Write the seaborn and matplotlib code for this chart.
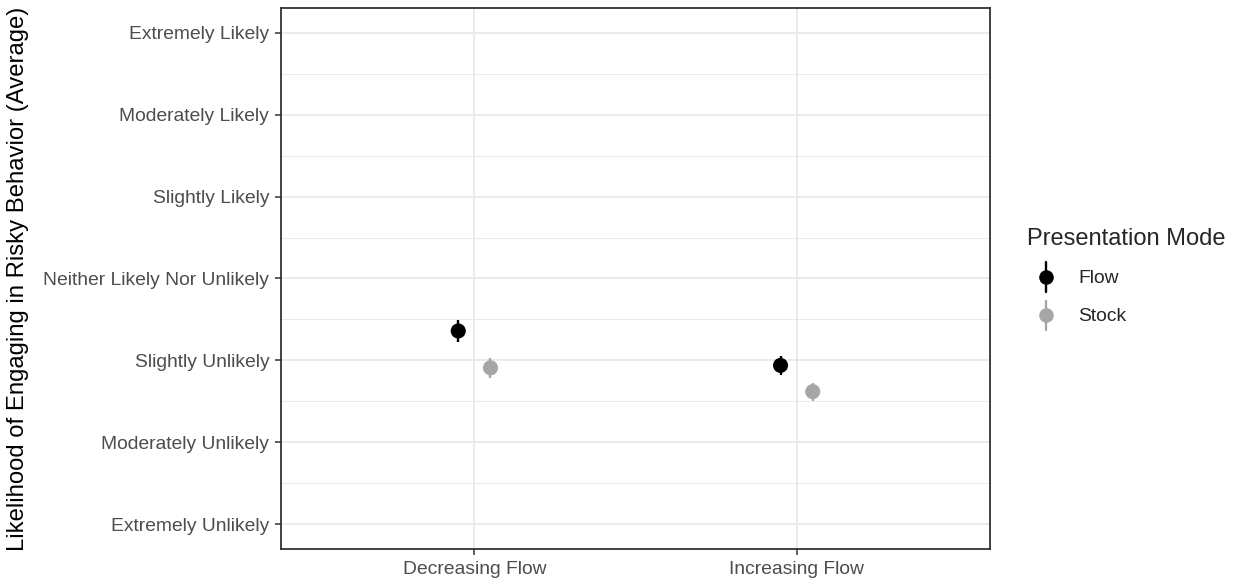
import numpy as np
import pandas as pd
import matplotlib
matplotlib.use("Agg")
import matplotlib.pyplot as plt
import seaborn as sns
from matplotlib.lines import Line2D
from matplotlib.legend_handler import HandlerBase

# Data
conditions = ["Decreasing Flow", "Increasing Flow"]
modes = ["Flow", "Stock"]
flow_means = [3.36, 2.94]
stock_means = [2.91, 2.62]
flow_err = [0.13, 0.12]
stock_err = [0.12, 0.11]
likert_labels = ["Extremely Unlikely", "Moderately Unlikely", "Slightly Unlikely",
                 "Neither Likely Nor Unlikely", "Slightly Likely",
                 "Moderately Likely", "Extremely Likely"]

colors = {"Flow": "#000000", "Stock": "#A6A6A6"}
dodge = {"Flow": -0.05, "Stock": 0.05}

rows = []
for i, c in enumerate(conditions):
    rows.append(dict(condition=c, mode="Flow", mean=flow_means[i], err=flow_err[i]))
    rows.append(dict(condition=c, mode="Stock", mean=stock_means[i], err=stock_err[i]))
df = pd.DataFrame(rows)
df["xpos"] = df["condition"].map({c: i for i, c in enumerate(conditions)}) + df["mode"].map(dodge)

sns.set_theme(style="white")
plt.rcParams["font.family"] = ["Liberation Sans", "DejaVu Sans"]

fig = plt.figure(figsize=(12.33, 5.81), dpi=100)
ax = fig.add_axes([281 / 1233, 1 - 549 / 581, (990 - 281) / 1233, (549 - 8) / 581])

# grid lines (major + minor)
for y in np.arange(1, 8):
    ax.axhline(y, color="#EBEBEB", lw=1.4, zorder=0)
for y in np.arange(1.5, 7.0, 1.0):
    ax.axhline(y, color="#EBEBEB", lw=0.7, zorder=0)
for x in range(len(conditions)):
    ax.axvline(x, color="#EBEBEB", lw=1.4, zorder=0)

for _, r in df.iterrows():
    ax.errorbar(r["xpos"], r["mean"], yerr=r["err"], fmt="none",
                ecolor=colors[r["mode"]], elinewidth=1.7, capsize=0, zorder=2)

sns.scatterplot(data=df, x="xpos", y="mean", hue="mode", palette=colors,
                s=118, edgecolor="none", ax=ax, legend=False, zorder=3)

ax.set_xlim(-0.6, 1.6)
ax.set_ylim(0.7, 7.3)
ax.set_xticks(range(len(conditions)))
ax.set_xticklabels(conditions)
ax.set_yticks(range(1, 8))
ax.set_yticklabels(likert_labels)
ax.set_xlabel("")
ax.set_ylabel("Likelihood of Engaging in Risky Behavior (Average)", fontsize=17.2,
              color="black", labelpad=10)

ax.tick_params(axis="both", which="major", length=4.5, width=1.1, color="#333333",
               labelsize=13.9, labelcolor="#4D4D4D", pad=4, left=True, bottom=True)
for s in ax.spines.values():
    s.set_color("#333333")
    s.set_linewidth(1.3)


class PointRangeHandler(HandlerBase):
    """Legend key: a vertical range line with a point in the middle."""
    def create_artists(self, legend, orig_handle, xdescent, ydescent,
                       width, height, fontsize, trans):
        c = orig_handle.get_color()
        cx = width / 2 - xdescent
        cy = height / 2 - ydescent
        half = 10.5
        line = Line2D([cx, cx], [cy - half, cy + half], color=c, lw=1.7,
                      transform=trans)
        pt = Line2D([cx], [cy], marker="o", markersize=10.5, color=c,
                    markeredgewidth=0, linestyle="none", transform=trans)
        return [line, pt]


handles = [Line2D([0], [0], color=colors[m]) for m in modes]
leg = fig.legend(handles, modes, title="Presentation Mode", loc="upper left",
                 bbox_to_anchor=(1027 / 1233, 1 - 228 / 581), frameon=False,
                 borderpad=0, borderaxespad=0,
                 fontsize=13.9, title_fontsize=17.0, handlelength=2.0,
                 handleheight=1.5, handletextpad=0.64, labelspacing=0.75,
                 handler_map={Line2D: PointRangeHandler()})
leg._legend_box.align = "left"
leg._legend_box.sep = 11

fig.savefig("out.png", dpi=100)
